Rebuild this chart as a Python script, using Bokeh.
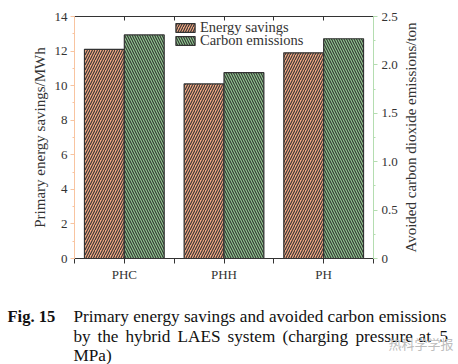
import math
from bokeh.plotting import figure
from bokeh.models import Range1d, LinearAxis, FixedTicker, Legend, LegendItem
from bokeh.layouts import column, row
from bokeh.embed import file_html
from bokeh.resources import INLINE
from bokeh.core.properties import value

# ---------------- data ----------------
categories = ["PHC", "PHH", "PH"]
energy_savings = [12.1, 10.1, 11.9]        # MWh (left axis)
carbon_emissions = [2.31, 1.92, 2.27]      # ton (right axis)
left_ticks = [0, 2, 4, 6, 8, 10, 12, 14]
right_ticks = [0, 0.5, 1.0, 1.5, 2.0, 2.5]
right_tick_labels = ["0", "0.5", "1.0", "1.5", "2.0", "2.5"]
left_label = "Primary energy savings/MWh"
right_label = "Avoided carbon dioxide emissions/ton"
caption_head = "Fig. 15"
caption_line1 = "Primary energy savings and avoided carbon emissions"
caption_line2_words = ["by", "the", "hybrid", "LAES", "system", "(charging", "pressure", "at", "5"]
caption_line3 = "MPa)"
watermark = "热科学学报"

# layout positions of the justified caption words (page pixels)
line2_word_x = [73, 97, 125, 177, 227, 282, 355, 418, 439]

SERIF = "Liberation Serif"
DARK = "#333333"
ORANGE = "#F4A882"
GREEN = "#8FC98F"
ORANGE_AXIS = "#F8C4A0"
GREEN_AXIS = "#B4DDB0"

CHART_H = 288
P_W = 400
n = len(categories)
centers = [i + 0.5 for i in range(n)]


def no_align(fig):
    try:
        fig.frame_align = False
    except Exception:
        pass


p = figure(width=P_W, height=CHART_H, x_range=Range1d(0, n), y_range=Range1d(0, 14),
           output_backend="svg", toolbar_location=None,
           x_axis_location=None, y_axis_location=None,
           min_border_left=74, min_border_right=P_W - 375, min_border_top=16,
           min_border_bottom=CHART_H - 258)
no_align(p)
p.outline_line_color = None
p.xgrid.visible = False
p.ygrid.visible = False
p.extra_y_ranges = {"right": Range1d(0, 2.5)}

r1 = p.vbar(x=[c - 0.2 for c in centers], top=energy_savings, width=0.4,
            fill_color=ORANGE, line_color=DARK, line_width=1.2,
            hatch_pattern="/", hatch_color=DARK, hatch_scale=5, hatch_weight=1.1)
r2 = p.vbar(x=[c + 0.2 for c in centers], top=carbon_emissions, width=0.4,
            y_range_name="right",
            fill_color=GREEN, line_color=DARK, line_width=1.2,
            hatch_pattern="\\", hatch_color=DARK, hatch_scale=5, hatch_weight=1.1)

# bottom axis
xb = LinearAxis(ticker=FixedTicker(ticks=centers, minor_ticks=list(range(n + 1))),
                major_label_overrides={c: cat for c, cat in zip(centers, categories)},
                axis_line_color=DARK, major_tick_line_color=DARK, minor_tick_line_color=DARK,
                major_tick_in=0, major_tick_out=5, minor_tick_in=0, minor_tick_out=5,
                major_label_text_font=SERIF, major_label_text_font_size="13px",
                major_label_text_color=DARK, major_label_standoff=3)
p.add_layout(xb, "below")

# top axis (ticks inside, no labels)
xt = LinearAxis(ticker=FixedTicker(ticks=centers, minor_ticks=list(range(n + 1))),
                major_label_overrides={c: "" for c in centers},
                axis_line_color=DARK, major_tick_line_color=DARK, minor_tick_line_color=DARK,
                major_tick_in=4, major_tick_out=0, minor_tick_in=4, minor_tick_out=0,
                major_label_standoff=0)
p.add_layout(xt, "above")

# left axis
yl = LinearAxis(ticker=FixedTicker(ticks=left_ticks, minor_ticks=list(range(0, 15))),
                axis_line_color=ORANGE_AXIS, major_tick_line_color=ORANGE_AXIS,
                minor_tick_line_color=ORANGE_AXIS,
                major_tick_in=0, major_tick_out=4, minor_tick_in=0, minor_tick_out=2,
                major_label_text_font=SERIF, major_label_text_font_size="13px",
                major_label_text_color=DARK, major_label_standoff=3,
                axis_label=left_label, axis_label_text_font=SERIF,
                axis_label_text_font_size="15px", axis_label_text_font_style="normal",
                axis_label_text_color=DARK, axis_label_standoff=4)
p.add_layout(yl, "left")

# right axis (its title is drawn in the side panel so it reads bottom-to-top)
yr = LinearAxis(y_range_name="right",
                ticker=FixedTicker(ticks=right_ticks,
                                   minor_ticks=[i * 0.25 for i in range(11)]),
                major_label_overrides={t: s for t, s in zip(right_ticks, right_tick_labels)},
                axis_line_color=GREEN_AXIS, major_tick_line_color=GREEN_AXIS,
                minor_tick_line_color=GREEN_AXIS,
                major_tick_in=0, major_tick_out=4, minor_tick_in=0, minor_tick_out=2,
                major_label_text_font=SERIF, major_label_text_font_size="13px",
                major_label_text_color=DARK, major_label_standoff=4)
p.add_layout(yr, "right")

leg_style = dict(orientation="vertical", background_fill_alpha=0, border_line_color=None,
                 label_text_font=SERIF, label_text_font_size="14.5px", label_text_color=DARK,
                 glyph_width=24, glyph_height=11, label_height=11, label_standoff=3,
                 spacing=0, padding=0, margin=0)
leg1 = Legend(items=[LegendItem(label="Energy savings", renderers=[r1])],
              location=(99, 222), **leg_style)
leg2 = Legend(items=[LegendItem(label="Carbon emissions", renderers=[r2])],
              location=(99, 209), **leg_style)
p.add_layout(leg1, "center")
p.add_layout(leg2, "center")


def blank(width, height):
    f = figure(width=width, height=height, x_range=Range1d(0, width),
               y_range=Range1d(height, 0), output_backend="svg", toolbar_location=None,
               x_axis_location=None, y_axis_location=None, min_border=0)
    no_align(f)
    f.outline_line_color = None
    f.xgrid.visible = False
    f.ygrid.visible = False
    return f


# side panel with the right axis title
S_W = 458 - P_W
side = blank(S_W, CHART_H)
side.text(x=[410 - P_W], y=[(16 + 258) / 2], text=[right_label], angle=math.pi / 2,
          text_font=value(SERIF), text_font_size="15px", text_color=DARK,
          text_align="center", text_baseline="middle")

# caption panel
CAP_H = 364 - CHART_H
cap = blank(458, CAP_H)
cap_font = dict(text_font=value(SERIF), text_font_size="17.2px", text_color="#111111",
                text_baseline="alphabetic")
cap.text(x=[7], y=[316 - CHART_H], text=[caption_head], text_font_style="bold",
         text_font=value(SERIF), text_font_size="16.5px", text_color="#111111",
         text_baseline="alphabetic")
cap.text(x=[73], y=[316 - CHART_H], text=[caption_line1], **cap_font)
cap.text(x=line2_word_x, y=[336 - CHART_H] * len(caption_line2_words),
         text=caption_line2_words, **cap_font)
cap.text(x=[73], y=[355 - CHART_H], text=[caption_line3], **cap_font)
cap.text(x=[388], y=[343 - CHART_H], text=[watermark], text_font=value("Noto Sans CJK SC"),
         text_font_size="13px", text_color="#BDBDBD", text_baseline="alphabetic")

layout = column(row(p, side, spacing=0), cap, spacing=0)
no_align(layout)
open("out.html", "w").write(file_html(layout, INLINE))
